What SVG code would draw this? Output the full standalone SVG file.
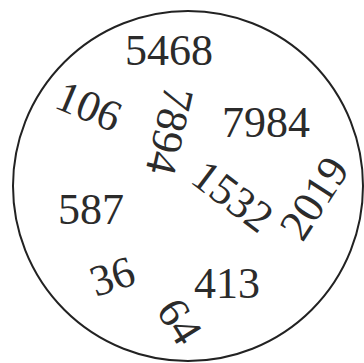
<svg xmlns="http://www.w3.org/2000/svg" width="364" height="363" viewBox="0 0 364 363">
<style>
.n{font-family:"Liberation Serif","Times New Roman",serif;font-size:44px;fill:#2b2b2b;text-anchor:middle}
</style>
<rect width="364" height="363" fill="#fff"/>
<g id="circle">
<circle cx="188" cy="186" r="175" fill="none" stroke="#222" stroke-width="2"/>
</g>
<g id="numbers">
<text class="n" x="169" y="65">5468</text>
<text class="n" x="266" y="137">7984</text>
<text class="n" x="91" y="224">587</text>
<text class="n" x="227" y="298">413</text>
<text class="n" transform="translate(89,106) rotate(23)" y="15">106</text>
<text class="n" transform="translate(170,131) rotate(103)" y="15">7894</text>
<text class="n" transform="translate(233,196) rotate(37)" y="15">1532</text>
<text class="n" transform="translate(314,198) rotate(-57)" y="15">2019</text>
<text class="n" transform="translate(112,276) rotate(-18)" y="15">36</text>
<text class="n" transform="translate(180,321) rotate(58)" y="15">64</text>
</g>
</svg>
